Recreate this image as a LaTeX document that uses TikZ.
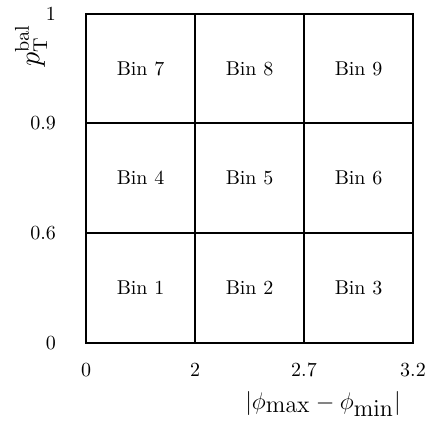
\documentclass[tikz,border=0pt]{standalone}
\usepackage{amsmath}
\usepackage{tikz}
\usetikzlibrary{positioning}

\begin{document}
\begin{tikzpicture}[x=0.5pt, y=0.5pt,
		gridline/.style={line width=0.8pt},
		bin/.style={font=\normalsize},
		ytick/.style={anchor=east, font=\normalsize},
		xtick/.style={font=\normalsize},
		axislabel/.style={font=\fontsize{13}{15}\selectfont}
	]
	\useasboundingbox (0,0) rectangle (427,421);
	
	%grid
	\draw[gridline] (86,78) rectangle (413,407);
	\draw[gridline] (195,78) -- (195,407);
	\draw[gridline] (304,78) -- (304,407);
	\draw[gridline] (86,188) -- (413,188);
	\draw[gridline] (86,298) -- (413,298);
	
	%bins
	\foreach \row/\yc in {0/133, 1/243, 2/352.5}
	\foreach \col/\xc in {0/140.5, 1/249.5, 2/358.5}
	{
		\pgfmathtruncatemacro{\n}{3*\row+\col+1}
		\node[bin] (bin\n) at (\xc,\yc) {Bin \n};
	}
	
	%ticks
	\node[ytick] (y0) at (63,78) {0};
	\node[ytick] (y06) at (63,188) {0.6};
	\node[ytick] (y09) at (63,298) {0.9};
	\node[ytick] (y1) at (63,407) {1};
	
	\node[xtick] (x0) at (86,51) {0};
	\node[xtick] (x2) at (195,51) {2};
	\node[xtick] (x27) at (304,51) {2.7};
	\node[xtick] (x32) at (413,51) {3.2};
	
	%axis labels
	\node[axislabel] (xlabel) at (323,17) {$|\phi_{\textstyle\mathrm{max}}-\phi_{\textstyle\mathrm{min}}|$};
	\node[axislabel, rotate=90] (ylabel) at (31,375) {\Large$p_{\mathrm{T}}^{\mathrm{bal}}$};
\end{tikzpicture}
\end{document}
